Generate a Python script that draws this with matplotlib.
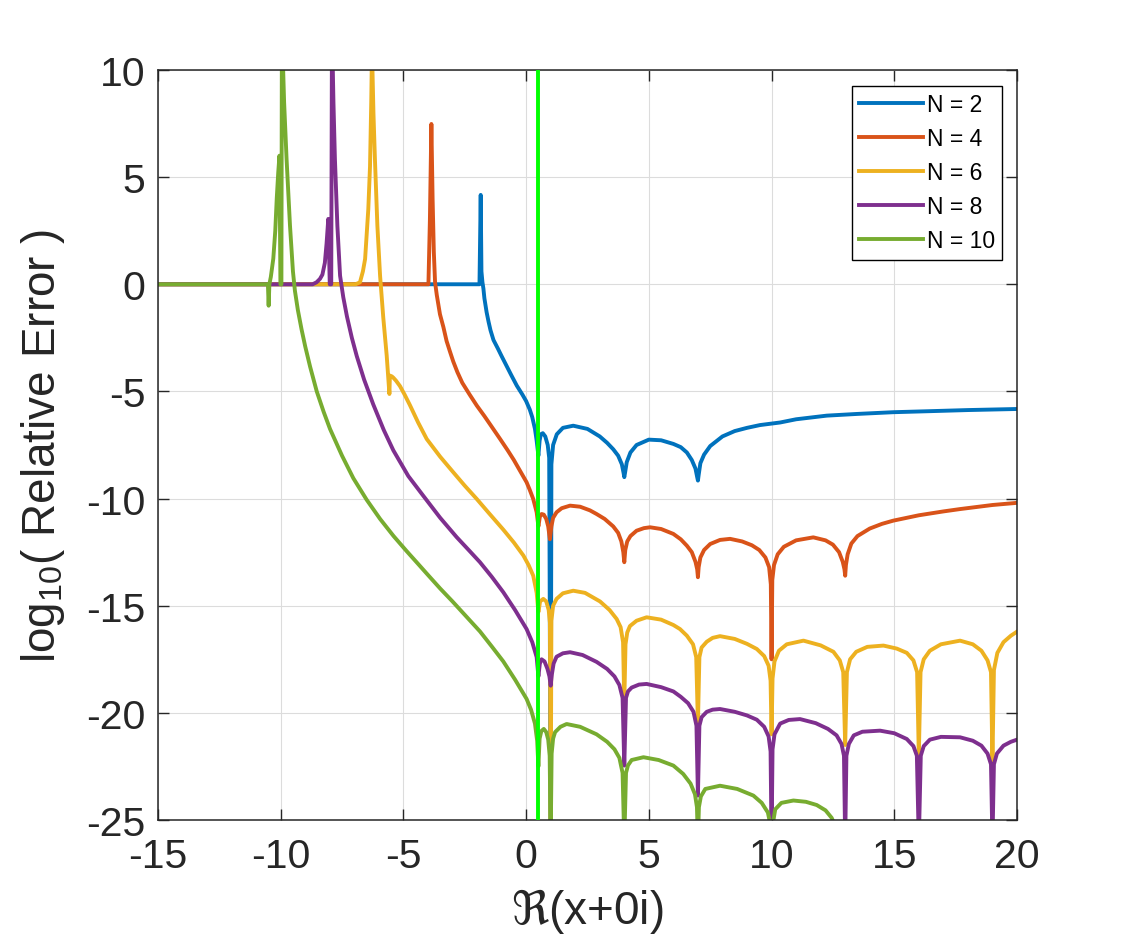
import matplotlib
matplotlib.use('Agg')
import matplotlib.pyplot as plt

#N = 2
x2 = [-15, -1.90, -1.85, -1.82, -1.78, -1.74, -1.70, -1.61, -1.53, -1.45, -1.33, -1.15, -1.00, -0.80, -0.60, -0.38, -0.15,
      0.00, 0.15, 0.25, 0.36, 0.43, 0.50, 0.55, 0.60, 0.68, 0.78, 0.88, 0.94, 1.00, 1.03, 1.10, 1.25,
      1.50, 1.92, 2.50, 3.00, 3.30, 3.55, 3.75, 3.90, 3.97, 4.00, 4.03, 4.10, 4.25, 4.50, 5.00, 5.50,
      6.00, 6.30, 6.55, 6.75, 6.90, 6.97, 7.00, 7.03, 7.10, 7.25, 7.50, 8.00, 8.50, 9.00, 9.53, 10.35,
      11.00, 12.25, 13.50, 14.96, 16.50, 18.00, 20]
y2 = [0, 0, 4.17, 0.6, 0.1, -0.2, -0.65, -1.30, -1.75, -2.15, -2.60, -3.00, -3.35, -3.80, -4.25, -4.73, -5.15,
      -5.45, -5.85, -6.20, -6.75, -7.30, -8.00, -7.30, -7.00, -6.95, -7.10, -7.50, -8.10, -26, -8.40, -7.50, -7.00,
      -6.70, -6.60, -6.75, -7.10, -7.40, -7.70, -8.00, -8.40, -8.80, -9.00, -8.80, -8.30, -7.85, -7.50, -7.25, -7.28,
      -7.45, -7.60, -7.85, -8.20, -8.60, -9.00, -9.16, -8.90, -8.35, -7.95, -7.55, -7.10, -6.85, -6.70, -6.57, -6.45,
      -6.30, -6.13, -6.05, -5.97, -5.92, -5.87, -5.82]

#N = 4
x4 = [-15, -3.98, -3.92, -3.86, -3.81, -3.76, -3.71, -3.64, -3.51, -3.37, -3.24, -3.10, -2.97, -2.80, -2.60,
      -2.30, -2.01, -1.70, -1.40, -1.06, -0.75, -0.50, -0.25, 0.02, 0.15, 0.29, 0.43, 0.50, 0.56, 0.63,
      0.72, 0.82, 0.90, 0.97, 1.03, 1.10, 1.24, 1.45, 1.79, 2.20, 2.60, 2.87, 3.20, 3.55, 3.75, 3.88,
      3.96, 4.00, 4.04, 4.12, 4.25, 4.50, 4.80, 5.05, 5.50, 6.00, 6.30, 6.55, 6.75, 6.90, 6.97, 7.00,
      7.03, 7.10, 7.25, 7.50, 7.90, 8.31, 8.80, 9.20, 9.50, 9.75, 9.90, 9.97, 10.00, 10.03, 10.10, 10.25,
      10.50, 11.00, 11.70, 12.20, 12.50, 12.75, 12.90, 12.97, 13.00, 13.03, 13.10, 13.25, 13.50, 14.00,
      14.50, 14.96, 16.00, 17.00, 17.68, 19.00, 20]
y4 = [0, 0, 3.0, 7.48, 4.0, 1.5, 0.1, -0.5, -1.4, -2.0, -2.65, -3.15, -3.6, -4.1, -4.6,
      -5.15, -5.66, -6.15, -6.65, -7.22, -7.75, -8.20, -8.70, -9.24, -9.60, -10.02, -10.64, -11.30, -10.85, -10.72,
      -10.75, -10.95, -11.30, -11.90, -11.30, -10.90, -10.64, -10.45, -10.33, -10.38, -10.55, -10.72, -10.95, -11.30, -11.60, -12.00,
      -12.50, -12.97, -12.40, -12.00, -11.75, -11.50, -11.38, -11.34, -11.42, -11.65, -11.90, -12.20, -12.50, -12.95, -13.30, -13.67,
      -13.20, -12.75, -12.40, -12.12, -11.93, -11.88, -12.00, -12.18, -12.40, -12.75, -13.20, -14.00, -17.50, -13.80, -13.10, -12.60,
      -12.25, -11.95, -11.81, -11.95, -12.15, -12.50, -12.95, -13.30, -13.60, -13.10, -12.60, -12.10, -11.75, -11.40,
      -11.18, -11.03, -10.78, -10.60, -10.49, -10.30, -10.20]

#N = 6
x6 = [-15, -6.95, -6.77, -6.65, -6.56, -6.43, -6.36, -6.31, -6.28, -6.22, -6.16, -6.06, -5.95, -5.82, -5.68,
      -5.57, -5.55, -5.47, -5.41, -5.30, -5.14, -4.95, -4.73, -4.40, -4.05, -3.50, -2.97, -2.50, -2.01, -1.50,
      -0.93, -0.50, -0.11, 0.10, 0.29, 0.43, 0.50, 0.57, 0.70, 0.82, 0.92, 0.97, 1.00, 1.03, 1.10, 1.24,
      1.50, 1.92, 2.40, 3.01, 3.40, 3.69, 3.85, 3.95, 4.00, 4.05, 4.12, 4.23, 4.50, 4.91, 5.50, 6.00,
      6.27, 6.55, 6.80, 6.93, 7.00, 7.06, 7.15, 7.36, 7.60, 7.90, 8.50, 9.00, 9.40, 9.70, 9.88, 9.96,
      10.00, 10.04, 10.12, 10.30, 10.62, 11.30, 12.00, 12.52, 12.78, 12.92, 13.00, 13.07, 13.20, 13.45,
      13.90, 14.56, 15.10, 15.51, 15.78, 15.93, 16.00, 16.07, 16.20, 16.45, 16.90, 17.68, 18.20, 18.55,
      18.80, 18.94, 19.00, 19.06, 19.20, 19.45, 19.75, 20]
y6 = [0, 0, 0.09, 0.6, 1.18, 3.5, 5.5, 8.5, 11, 8.0, 5.85, 2.73, 0.4, -1.55, -3.33,
      -5.12, -4.26, -4.30, -4.36, -4.50, -4.75, -5.15, -5.65, -6.45, -7.22, -8.05, -8.77, -9.40, -10.02, -10.70,
      -11.45, -12.05, -12.66, -13.10, -13.60, -14.40, -15.30, -14.80, -14.68, -14.80, -15.20, -15.80, -26, -15.70, -15.00, -14.68,
      -14.42, -14.30, -14.40, -14.80, -15.20, -15.62, -16.00, -16.70, -19.50, -16.80, -16.25, -15.95, -15.70, -15.54, -15.65, -15.90,
      -16.09, -16.40, -16.80, -17.40, -20.50, -17.40, -16.95, -16.68, -16.50, -16.42, -16.55, -16.78, -17.02, -17.35, -17.80, -18.50,
      -21.00, -18.40, -17.60, -17.10, -16.80, -16.63, -16.85, -17.15, -17.55, -18.10, -21.50, -18.10, -17.50, -17.15,
      -16.92, -16.86, -17.00, -17.20, -17.55, -18.10, -22.00, -18.10, -17.50, -17.10, -16.80, -16.63, -16.80, -17.10,
      -17.55, -18.10, -22.30, -18.00, -17.20, -16.70, -16.40, -16.21]

#N = 8
x8 = [-15, -8.70, -8.54, -8.40, -8.30, -8.20, -8.13, -8.06, -8.00, -7.94, -7.91, -7.85, -7.79, -7.69, -7.58,
      -7.45, -7.30, -7.10, -6.90, -6.60, -6.23, -5.80, -5.41, -4.80, -4.19, -3.50, -2.83, -2.30, -1.88, -1.40,
      -0.93, -0.45, 0.02, 0.25, 0.43, 0.50, 0.56, 0.63, 0.75, 0.87, 0.95, 1.00, 1.05, 1.12, 1.24, 1.50,
      1.79, 2.30, 2.87, 3.30, 3.60, 3.80, 3.93, 4.00, 4.07, 4.15, 4.30, 4.60, 4.91, 5.50, 6.00, 6.30,
      6.60, 6.82, 6.94, 7.00, 7.06, 7.15, 7.36, 7.60, 7.90, 8.50, 9.00, 9.40, 9.70, 9.88, 9.96, 10.00,
      10.04, 10.12, 10.35, 10.70, 11.16, 11.80, 12.30, 12.65, 12.85, 12.95, 13.00, 13.05, 13.15, 13.35,
      13.70, 14.42, 15.00, 15.51, 15.78, 15.92, 16.00, 16.08, 16.20, 16.45, 16.90, 17.68, 18.20, 18.55,
      18.80, 18.94, 19.00, 19.06, 19.18, 19.45, 19.75, 20]
y8 = [0, 0, 0.09, 0.25, 0.45, 1.0, 1.9, 3.05, 0, 0, 12, 8.5, 5.85, 2.73, 0.4,
      -0.6, -1.5, -2.5, -3.35, -4.45, -5.60, -6.80, -7.75, -8.95, -9.87, -10.90, -11.80, -12.45, -12.97, -13.65,
      -14.37, -15.20, -16.09, -16.70, -17.40, -18.30, -17.70, -17.50, -17.60, -17.95, -18.30, -18.73, -18.20, -17.70, -17.38, -17.22,
      -17.17, -17.30, -17.62, -17.95, -18.30, -18.70, -19.30, -22.46, -19.30, -19.00, -18.82, -18.68, -18.65, -18.80, -19.00, -19.25,
      -19.55, -19.95, -20.60, -23.86, -20.60, -20.20, -19.95, -19.85, -19.82, -19.95, -20.12, -20.32, -20.65, -21.10, -21.80, -26,
      -21.70, -21.00, -20.50, -20.33, -20.29, -20.48, -20.75, -21.05, -21.45, -22.00, -26, -22.00, -21.45, -21.05,
      -20.88, -20.83, -20.95, -21.22, -21.55, -22.00, -26, -22.00, -21.55, -21.25, -21.12, -21.14, -21.30, -21.53,
      -21.90, -22.40, -26, -22.40, -21.90, -21.53, -21.35, -21.25]

#N = 10
x10 = [-15, -10.52, -10.49, -10.46, -10.40, -10.30, -10.22, -10.16, -10.10, -10.05, -10.01, -9.97, -9.95, -9.86, -9.76,
       -9.62, -9.50, -9.42, -9.30, -9.15, -9.00, -8.80, -8.53, -8.25, -7.99, -7.50, -7.04, -6.50, -5.95, -5.40,
       -4.87, -4.40, -4.05, -3.50, -3.00, -2.40, -1.88, -1.40, -0.93, -0.45, 0.02, 0.20, 0.36, 0.45, 0.50,
       0.55, 0.62, 0.72, 0.82, 0.90, 0.96, 1.00, 1.04, 1.10, 1.18, 1.40, 1.65, 2.20, 2.87, 3.30, 3.60,
       3.80, 3.93, 4.00, 4.07, 4.15, 4.30, 4.78, 5.40, 6.00, 6.40, 6.70, 6.88, 6.96, 7.00, 7.04, 7.12,
       7.30, 7.90, 8.60, 9.26, 9.60, 9.85, 9.95, 10.00, 10.05, 10.15, 10.40, 10.89, 11.40, 11.84, 12.20,
       12.45, 12.60]
y10 = [0, 0, -1.0, 0, 0.35, 1.2, 2.5, 4.0, 5.2, 6.0, 0, 0, 12, 8.5, 5.85,
       2.73, 0.6, -0.3, -1.2, -2.1, -2.9, -3.85, -5.00, -5.95, -6.75, -8.00, -9.05, -10.05, -10.95, -11.75,
       -12.45, -13.05, -13.50, -14.20, -14.80, -15.55, -16.20, -16.90, -17.60, -18.45, -19.35, -19.85, -20.50, -21.30, -22.50,
       -21.20, -20.85, -20.75, -20.90, -21.25, -22.00, -26, -21.90, -21.20, -20.90, -20.65, -20.52, -20.65, -21.00, -21.35, -21.70,
       -22.10, -22.80, -26, -22.80, -22.45, -22.20, -22.07, -22.20, -22.46, -22.85, -23.30, -23.80, -24.40, -26, -24.40, -23.90,
       -23.55, -23.40, -23.55, -23.86, -24.20, -24.65, -25.20, -26, -25.20, -24.50, -24.20, -24.09, -24.15, -24.30, -24.55,
       -24.90, -25.30]

labels = ['N = 2', 'N = 4', 'N = 6', 'N = 8', 'N = 10']
colors = ['#0072BD', '#D95319', '#EDB120', '#7E2F8E', '#77AC30']
xline = 0.5

xticks = [-15, -10, -5, 0, 5, 10, 15, 20]
yticks = [-25, -20, -15, -10, -5, 0, 5, 10]

plt.rcParams['font.family'] = ['Liberation Sans', 'DejaVu Sans']
plt.rcParams['mathtext.fontset'] = 'custom'
plt.rcParams['mathtext.rm'] = 'Liberation Sans'
plt.rcParams['axes.unicode_minus'] = False
ink = '#262626'

fig = plt.figure(figsize=(11.25, 9.45), dpi=100)
ax = fig.add_axes([0.1404, 0.1312, 0.7636, 0.7937])

series = [(x2, y2), (x4, y4), (x6, y6), (x8, y8), (x10, y10)]
for (xs, ys), lab, col in zip(series, labels, colors):
        ax.plot(xs, ys, color=col, lw=2.8, label=lab)

#vertical reference line
ax.axvline(xline, color='#00FF00', lw=2.8, zorder=5)

ax.set_xlim(-15, 20)
ax.set_ylim(-25, 10)
ax.set_xticks(xticks)
ax.set_yticks(yticks)
ax.grid(True, color='#DCDCDC', lw=0.8)
ax.set_axisbelow(True)
ax.tick_params(direction='in', length=8, width=1, colors=ink, labelsize=29.5,
               top=True, right=True)
ax.tick_params(axis='x', pad=12)
ax.tick_params(axis='y', pad=9)
for s in ax.spines.values():
        s.set_color(ink)
        s.set_linewidth(1.1)

ax.set_xlabel(r'$\Re$(x+0i)', fontsize=33, color=ink, labelpad=8)
ax.set_ylabel(r'log$_{10}$( Relative Error )', fontsize=33, color=ink, labelpad=14)

leg = ax.legend(loc='upper right', bbox_to_anchor=(0.9825, 0.9787), borderaxespad=0,
                fontsize=16.5, handlelength=2.8, handletextpad=0.15, labelspacing=0.48,
                borderpad=0.32, fancybox=False, framealpha=1, edgecolor='black')
leg.get_frame().set_linewidth(1.0)

fig.savefig('out.png', dpi=100)
